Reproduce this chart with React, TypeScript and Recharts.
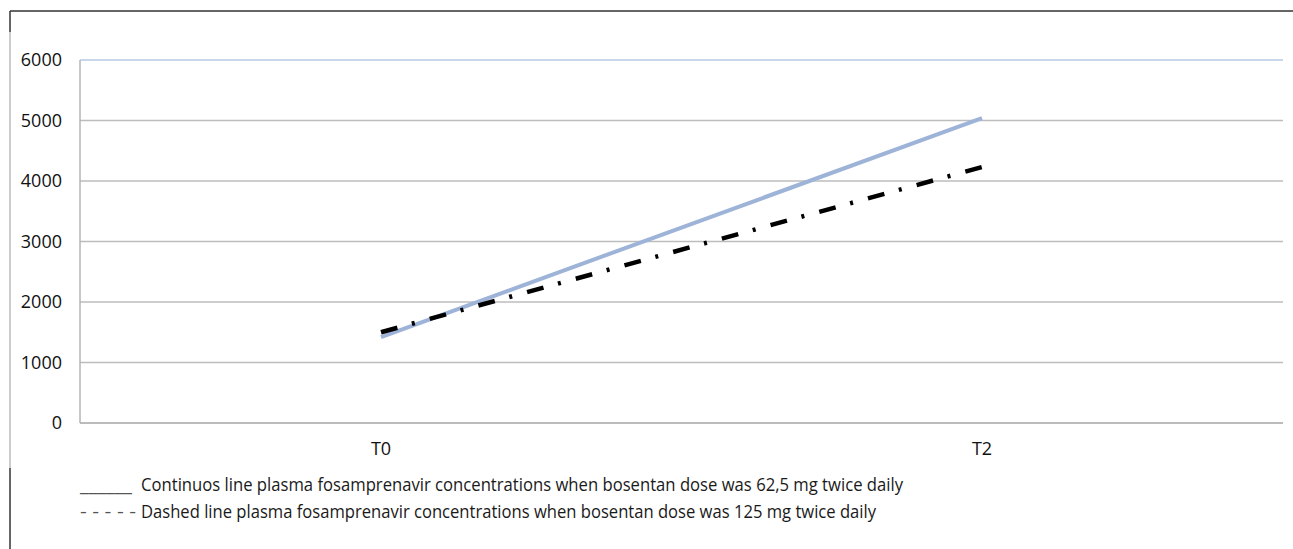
import React from 'react';
import { LineChart, Line, XAxis, YAxis, CartesianGrid, ReferenceLine } from 'recharts';

const categories = ['T0', 'T2'];
const continuous = [1420, 5040];
const dashed = [1500, 4230];
const yTicks = [0, 1000, 2000, 3000, 4000, 5000, 6000];

const legendRows = [
  { mark: '______', text: 'Continuos line plasma fosamprenavir concentrations when bosentan dose was 62,5 mg twice daily' },
  { mark: '- - - - -', text: 'Dashed line plasma fosamprenavir concentrations when bosentan dose was 125 mg twice daily' },
];

const data = categories.map((t, i) => ({ t, continuous: continuous[i], dashed: dashed[i] }));

const FONT = '"Open Sans", "DejaVu Sans", sans-serif';
const tickStyle = { fontFamily: FONT, fontSize: 18, fill: '#111' };

const App: React.FC = () => {
  return (
    <div style={{ position: 'absolute', left: 0, top: 0, width: 1293, height: 549, background: '#fff' }}>
      <LineChart width={1293} height={549} data={data} margin={{ top: 60, right: 10, bottom: 96, left: 20 }}>
        <CartesianGrid vertical={false} stroke="#bdbdbd" strokeWidth={1.5} />
        <XAxis
          dataKey="t"
          padding={{ left: 301, right: 301 }}
          height={30}
          tickLine={false}
          tickMargin={13}
          axisLine={{ stroke: '#b5b5b5', strokeWidth: 1.5 }}
          tick={tickStyle}
        />
        <YAxis
          domain={[0, 6000]}
          ticks={yTicks}
          width={60}
          tickLine={false}
          tickMargin={12}
          axisLine={{ stroke: '#b5b5b5', strokeWidth: 1.5 }}
          tick={tickStyle}
        />
        <YAxis
          yAxisId="right"
          orientation="right"
          width={0}
          tick={false}
          tickLine={false}
          axisLine={{ stroke: '#c9d7ec', strokeWidth: 2 }}
        />
        <ReferenceLine y={6000} stroke="#c9d7ec" strokeWidth={2} />
        <Line
          dataKey="continuous"
          stroke="#9db3d8"
          strokeWidth={4}
          dot={false}
          isAnimationActive={false}
        />
        <Line
          dataKey="dashed"
          stroke="#000"
          strokeWidth={4.5}
          strokeDasharray="17 15 3 15.5"
          dot={false}
          isAnimationActive={false}
        />
      </LineChart>
      <svg width={1293} height={549} style={{ position: 'absolute', left: 0, top: 0, pointerEvents: 'none' }}>
        <line x1={10} y1={11} x2={1293} y2={11} stroke="#333" strokeWidth={1.5} />
        <line x1={10} y1={11} x2={10} y2={32} stroke="#333" strokeWidth={1.5} />
        <line x1={10} y1={32} x2={10} y2={468} stroke="#999" strokeWidth={1} />
        <line x1={10} y1={468} x2={10} y2={549} stroke="#333" strokeWidth={1.5} />
        {legendRows.map((row, i) => (
          <g key={i} fontFamily={FONT} fontSize={18} fill="#1a1a1a">
            <text x={80} y={491 + i * 27} textLength={i === 0 ? 52 : 56} lengthAdjust="spacingAndGlyphs" fill="#555">
              {row.mark}
            </text>
            <text x={141} y={491 + i * 27} textLength={i === 0 ? 762 : 735} lengthAdjust="spacingAndGlyphs">
              {row.text}
            </text>
          </g>
        ))}
      </svg>
    </div>
  );
};

export default App;
